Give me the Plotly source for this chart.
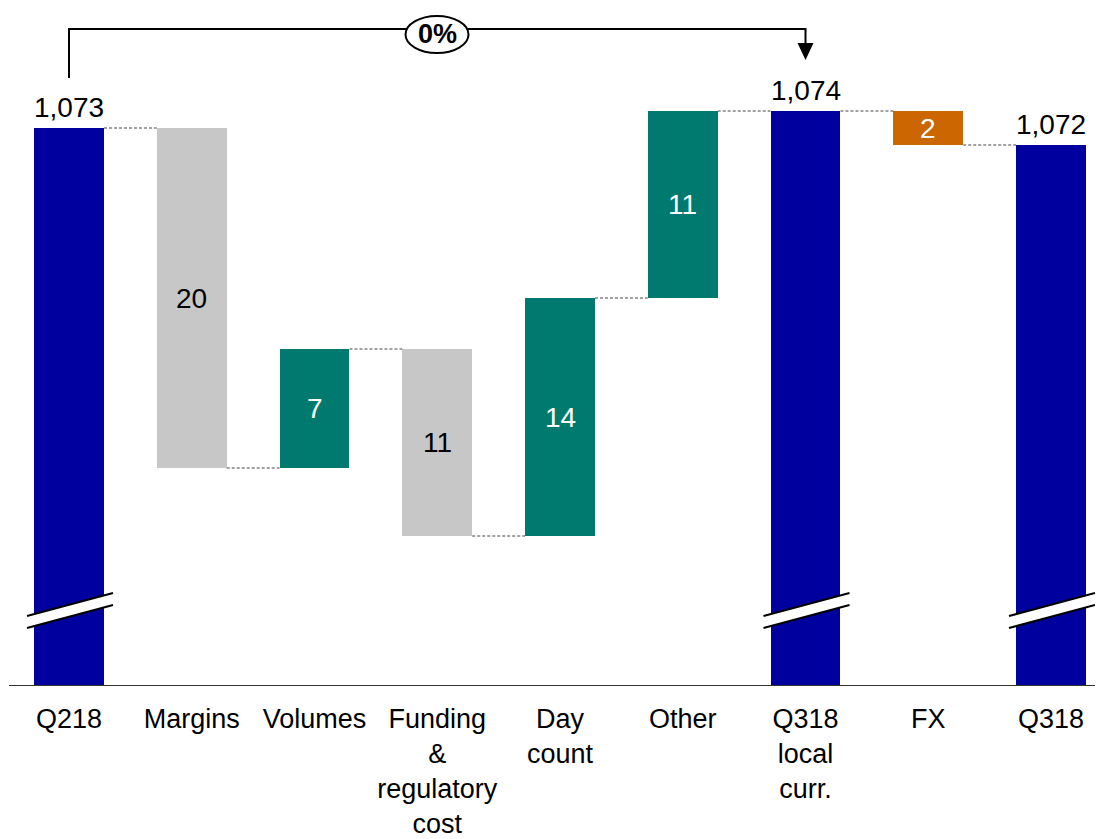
import plotly.graph_objects as go

# ---------------- data ----------------
categories = ["Q218", "Margins", "Volumes", "Funding<br>&<br>regulatory<br>cost",
              "Day<br>count", "Other", "Q318<br>local<br>curr.", "FX", "Q318"]
values = [1073, -20, 7, -11, 14, 11, 1074, -2, 1072]
kinds = ["total", "delta", "delta", "delta", "delta", "delta", "total", "fx", "total"]
bracket_label = "0%"
bracket_from, bracket_to = 0, 6

# ---------------- style ----------------
BLUE = "#00009E"
TEAL = "#00796F"
GRAY = "#C8C7C7"
ORANGE = "#CC6600"
FONT = "Liberation Sans, Arial, sans-serif"
FS = 28
TICK_FS = 27
PAGE_OFF = 8              # default body margin of the page
W, H = 1103 - PAGE_OFF, 839 - PAGE_OFF
PLOT_BOTTOM_PX = 686      # page coords
PX_PER_UNIT = 17.0
REF_VAL, REF_PX = 1073, 128


def v(px):
    """page pixel row -> data value"""
    return REF_VAL - (px - REF_PX) / PX_PER_UNIT


y_lo, y_hi = v(PLOT_BOTTOM_PX), v(PAGE_OFF)
SPACING = 122.75
X0_PX = 69
x_lo = (PAGE_OFF - X0_PX) / SPACING
x_hi = (PAGE_OFF + W - X0_PX) / SPACING
BW = 0.57

# compute bases / tops
bases, heights, colors, tcolors, labels, levels = [], [], [], [], [], []
level = 0
for val, k in zip(values, kinds):
    if k == "total":
        bases.append(0)
        heights.append(val)
        colors.append(BLUE)
        level = val
        labels.append(f"{val:,}")
        tcolors.append("black")
    else:
        bases.append(level)
        heights.append(val)
        if k == "fx":
            colors.append(ORANGE)
            tcolors.append("white")
        elif val >= 0:
            colors.append(TEAL)
            tcolors.append("white")
        else:
            colors.append(GRAY)
            tcolors.append("black")
        level = level + val
        labels.append(f"{abs(val):,}")
    levels.append(level)

xs = list(range(len(categories)))

fig = go.Figure()
fig.add_trace(go.Bar(x=xs, y=heights, base=bases, width=BW,
                     marker=dict(color=colors, line=dict(width=0)),
                     hoverinfo="skip", showlegend=False))

shapes = []
annotations = []

# connectors
for i in range(len(xs) - 1):
    shapes.append(dict(type="line", xref="x", yref="y",
                       x0=xs[i] + BW / 2, x1=xs[i + 1] - BW / 2,
                       y0=levels[i], y1=levels[i],
                       line=dict(color="#444444", width=1, dash="3px,2px")))

# labels
for i, (k, val) in enumerate(zip(kinds, values)):
    if k == "total":
        annotations.append(dict(x=xs[i], y=val, xref="x", yref="y", text=labels[i],
                                showarrow=False, yanchor="bottom", yshift=3,
                                font=dict(family=FONT, size=FS, color="black")))
    else:
        mid = bases[i] + val / 2
        annotations.append(dict(x=xs[i], y=mid, xref="x", yref="y", text=labels[i],
                                showarrow=False, yanchor="middle",
                                font=dict(family=FONT, size=FS, color=tcolors[i])))

# axis breaks on total bars
dxl, dxr = 42 / SPACING, 44 / SPACING
for i, k in enumerate(kinds):
    if k != "total":
        continue
    xl, xr = xs[i] - dxl, xs[i] + dxr
    up_l, up_r = v(616), v(593)
    lo_l, lo_r = v(628), v(605)
    shapes.append(dict(type="path", xref="x", yref="y",
                       path=f"M {xl},{up_l} L {xr},{up_r} L {xr},{lo_r} L {xl},{lo_l} Z",
                       fillcolor="white", line=dict(width=0)))
    for a, b in ((up_l, up_r), (lo_l, lo_r)):
        shapes.append(dict(type="line", xref="x", yref="y", x0=xl, x1=xr, y0=a, y1=b,
                           line=dict(color="black", width=2)))

# baseline axis
shapes.append(dict(type="line", xref="paper", yref="y", x0=(9 - PAGE_OFF) / W, x1=1,
                   y0=y_lo, y1=y_lo, line=dict(color="#333333", width=2)))

# bracket with growth label
yb = v(29)
shapes.append(dict(type="path", xref="x", yref="y",
                   path=(f"M {xs[bracket_from]},{v(78)} L {xs[bracket_from]},{yb} "
                         f"L {xs[bracket_to]},{yb} L {xs[bracket_to]},{v(45)}"),
                   line=dict(color="black", width=2)))
ah = 8 / SPACING
shapes.append(dict(type="path", xref="x", yref="y",
                   path=(f"M {xs[bracket_to]-ah},{v(43)} L {xs[bracket_to]+ah},{v(43)} "
                         f"L {xs[bracket_to]},{v(60)} Z"),
                   fillcolor="black", line=dict(width=0)))
xm = (437 - X0_PX) / SPACING
ew = 31.5 / SPACING
shapes.append(dict(type="circle", xref="x", yref="y",
                   x0=xm - ew, x1=xm + ew, y0=v(16), y1=v(53),
                   fillcolor="white", line=dict(color="black", width=2)))
annotations.append(dict(x=xm, y=v(34), xref="x", yref="y", text=f"<b>{bracket_label}</b>",
                        showarrow=False, yanchor="middle",
                        font=dict(family=FONT, size=27, color="black")))

fig.update_layout(
    width=W, height=H,
    margin=dict(l=0, r=0, t=0, b=H - (PLOT_BOTTOM_PX - PAGE_OFF), autoexpand=False),
    paper_bgcolor="white", plot_bgcolor="white",
    shapes=shapes, annotations=annotations,
    bargap=0,
    xaxis=dict(range=[x_lo, x_hi], tickvals=xs, ticktext=categories,
               showgrid=False, zeroline=False, showline=False, ticks="",
               ticklabelstandoff=14, automargin=False,
               tickfont=dict(family=FONT, size=TICK_FS, color="black"),
               fixedrange=True),
    yaxis=dict(range=[y_lo, y_hi], visible=False, fixedrange=True, automargin=False),
    font=dict(family=FONT),
)

fig.write_html("out.html")
